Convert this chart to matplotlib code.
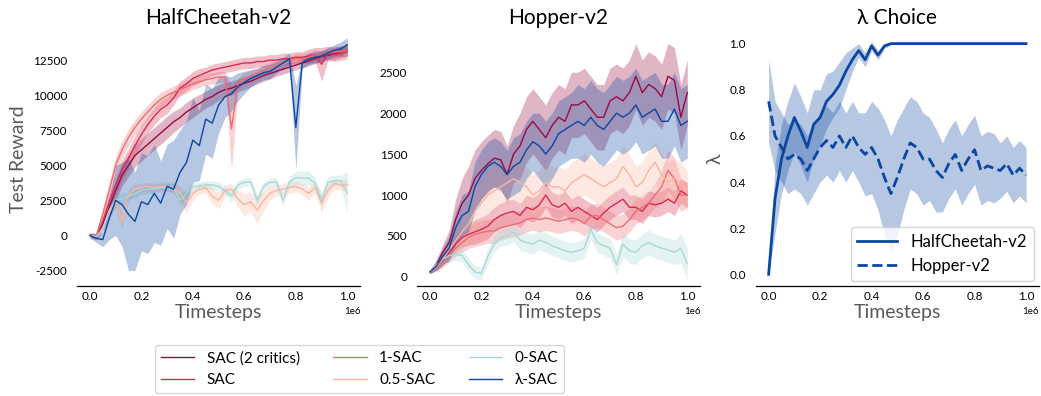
import numpy as np
import matplotlib
matplotlib.use("Agg")
from matplotlib import pyplot as plt

plt.rcParams['font.family'] = ['Lato', 'DejaVu Sans']
plt.rcParams['axes.unicode_minus'] = False

# timesteps grid (x 1e6)
steps = np.linspace(0, 1e6, 41)

# HalfCheetah-v2, mean test reward and half band width
hc_sac2 = [0, -100, 800, 2000, 3200, 4300, 5000, 5700, 6100, 6500, 6900, 7300, 7700, 8100, 8400, 8800, 9100, 9400, 9700, 9900,
           10200, 10400, 10500, 10700, 10850, 11000, 11200, 11400, 11550, 11700, 11850, 12000, 12150, 12300, 12450, 12600, 12750, 12850, 12950, 13100, 13200]
hc_sac2_err = [150, 200, 400, 600, 700, 800, 800, 800, 800, 800, 800, 800, 800, 750, 700, 700, 700, 650, 600, 600,
               550, 500, 500, 450, 450, 400, 400, 400, 400, 350, 350, 350, 350, 350, 350, 350, 350, 350, 400, 400, 400]
hc_sac = [0, -100, 1000, 2400, 3600, 4700, 5500, 6400, 7200, 7900, 8500, 9000, 9300, 9800, 10500, 10800, 11200, 11400, 11600, 11800,
          11900, 12000, 12100, 12200, 12300, 12300, 12400, 12400, 12500, 12500, 12600, 12600, 12700, 12700, 12800, 12900, 12200, 13000, 12900, 13000, 13100]
hc_sac_err = [150, 200, 400, 600, 700, 700, 700, 700, 700, 600, 600, 600, 600, 500, 500, 500, 500, 500, 400, 400,
              400, 400, 400, 400, 400, 400, 400, 400, 400, 400, 400, 400, 400, 400, 500, 500, 1200, 500, 500, 500, 500]
hc_1sac = [0, 0, 1500, 3200, 5000, 6100, 7000, 7700, 8300, 8800, 9300, 9700, 10000, 10200, 10400, 10600, 10800, 10950, 11100, 11200,
           11300, 11300, 7600, 10800, 11200, 11400, 11600, 11800, 12000, 12100, 12300, 12400, 12600, 12600, 12700, 12900, 12800, 13000, 13100, 13100, 13200]
hc_1sac_err = [150, 200, 500, 600, 600, 600, 600, 550, 500, 500, 500, 500, 450, 450, 450, 450, 400, 400, 400, 400,
               400, 400, 3000, 400, 400, 400, 350, 350, 350, 350, 350, 350, 350, 350, 350, 350, 350, 350, 400, 400, 400]
hc_05sac = [0, -100, 500, 1600, 2500, 1000, 2900, 3300, 3400, 3500, 3400, 3500, 3500, 3400, 3000, 2300, 3000, 3300, 3400, 2800,
            2500, 3200, 3300, 2600, 2200, 2400, 1800, 2500, 3000, 3200, 3300, 3400, 3500, 3300, 3000, 3400, 2300, 3200, 3700, 3600, 3600]
hc_05sac_err = [100, 200, 300, 400, 500, 500, 400, 400, 300, 300, 300, 300, 300, 400, 500, 700, 500, 400, 400, 600,
                600, 400, 400, 600, 800, 700, 1000, 700, 500, 400, 400, 400, 400, 400, 500, 400, 700, 500, 400, 400, 400]
hc_0sac = [0, -100, 500, 1800, 2500, 2600, 2800, 3000, 3200, 3300, 3300, 3400, 3400, 3400, 2500, 3000, 3500, 3500, 3600, 3600,
           3500, 3200, 2800, 3600, 3800, 3800, 2500, 3500, 3800, 3800, 2500, 3800, 4100, 4100, 4100, 3700, 2500, 3800, 3900, 3900, 3000]
hc_0sac_err = [100, 200, 300, 400, 400, 400, 300, 300, 300, 300, 300, 300, 300, 300, 400, 300, 300, 300, 300, 300,
               300, 300, 400, 300, 300, 300, 400, 300, 300, 300, 400, 400, 500, 500, 500, 400, 500, 400, 400, 400, 1500]
hc_lam = [0, -200, -300, 1200, 2500, 2200, 1500, 1000, 2400, 2200, 3000, 2300, 3500, 3300, 4500, 5200, 6800, 6400, 8300, 8000,
          9300, 9900, 10100, 10600, 10900, 11200, 11400, 11600, 11700, 12000, 12300, 12600, 7700, 12300, 12600, 12700, 12800, 13000, 13200, 13300, 13600]
hc_lam_err = [200, 300, 500, 1500, 2500, 3000, 4000, 3500, 3500, 3500, 3500, 3000, 3000, 3500, 3000, 3000, 3000, 2500, 2500, 2500,
              2000, 1500, 1200, 1000, 800, 600, 500, 500, 500, 400, 400, 400, 3000, 400, 400, 400, 400, 400, 400, 500, 500]

# Hopper-v2
hp_sac2 = [60, 150, 300, 420, 700, 900, 1000, 1200, 1300, 1380, 1450, 1430, 1250, 1500, 1600, 1800, 1900, 1800, 1700, 1850,
           1950, 1900, 2100, 2100, 2150, 2050, 1950, 1950, 2150, 2200, 2150, 2250, 2450, 2250, 2350, 2300, 2200, 2450, 2400, 1950, 2250]
hp_sac2_err = [20, 60, 100, 150, 250, 300, 350, 350, 350, 350, 350, 350, 350, 350, 400, 400, 400, 400, 400, 400,
               400, 400, 400, 400, 400, 400, 400, 400, 400, 400, 400, 400, 400, 400, 400, 400, 400, 400, 400, 400, 400]
hp_sac = [60, 120, 200, 300, 400, 480, 520, 550, 580, 620, 700, 750, 780, 800, 750, 850, 820, 880, 1000, 880,
          850, 900, 800, 850, 800, 750, 700, 780, 850, 900, 950, 850, 850, 800, 900, 880, 900, 950, 900, 1050, 1000]
hp_sac_err = [20, 40, 60, 80, 100, 120, 130, 150, 150, 150, 150, 150, 150, 150, 150, 150, 150, 150, 150, 150,
              150, 150, 150, 150, 150, 150, 150, 150, 150, 150, 150, 150, 150, 150, 150, 150, 150, 150, 150, 150, 150]
hp_1sac = [60, 110, 180, 260, 350, 420, 480, 520, 540, 560, 560, 600, 620, 640, 660, 700, 720, 700, 720, 700,
           680, 700, 720, 700, 650, 740, 750, 700, 650, 600, 620, 700, 800, 850, 900, 1000, 1100, 1300, 1200, 1000, 1000]
hp_1sac_err = [20, 40, 60, 80, 100, 120, 130, 150, 150, 150, 150, 150, 150, 150, 150, 150, 150, 150, 150, 150,
               150, 150, 150, 150, 150, 150, 150, 150, 150, 150, 150, 150, 150, 150, 150, 150, 200, 250, 250, 200, 150]
hp_05sac = [60, 120, 220, 330, 450, 550, 650, 800, 900, 1000, 1050, 1100, 1150, 1200, 1150, 1100, 1000, 1050, 1150, 1100,
            1100, 1050, 1150, 1200, 1250, 1200, 1150, 1100, 1150, 1200, 1350, 1250, 1100, 1150, 1300, 1400, 1250, 1150, 1200, 1150, 1050]
hp_05sac_err = [20, 40, 80, 120, 150, 200, 200, 250, 250, 250, 250, 250, 250, 250, 250, 250, 250, 250, 250, 250,
                250, 250, 250, 250, 250, 250, 250, 250, 250, 250, 250, 250, 250, 250, 250, 250, 250, 250, 250, 250, 250]
hp_0sac = [60, 150, 220, 260, 280, 260, 150, 60, 40, 250, 400, 480, 500, 550, 450, 420, 400, 450, 420, 380,
           350, 320, 300, 320, 350, 580, 420, 380, 350, 150, 400, 320, 300, 380, 420, 380, 350, 330, 300, 350, 160]
hp_0sac_err = [20, 50, 60, 70, 80, 80, 80, 80, 80, 100, 100, 100, 120, 120, 120, 120, 120, 120, 120, 120,
               120, 120, 120, 120, 120, 120, 120, 120, 120, 120, 150, 150, 150, 150, 150, 150, 150, 150, 150, 180, 200]
hp_lam = [60, 130, 250, 350, 600, 750, 800, 1100, 1250, 1350, 1400, 1350, 1250, 1350, 1400, 1550, 1650, 1600, 1500, 1600,
          1750, 1800, 1850, 1900, 1850, 1950, 1850, 1800, 1900, 2000, 1950, 2000, 2100, 1950, 2000, 2050, 1900, 1900, 2050, 1850, 1900]
hp_lam_err = [20, 50, 100, 150, 200, 250, 250, 300, 300, 300, 300, 300, 300, 350, 350, 350, 350, 400, 400, 400,
              400, 400, 400, 450, 450, 450, 450, 450, 450, 450, 450, 450, 450, 450, 450, 450, 450, 450, 450, 450, 450]

# lambda choice
lam_hc = [0.0, 0.33, 0.5, 0.6, 0.68, 0.62, 0.55, 0.65, 0.68, 0.75, 0.78, 0.82, 0.88, 0.93, 0.97, 0.93, 0.99, 0.95, 0.99, 1.0,
          1.0, 1.0, 1.0, 1.0, 1.0, 1.0, 1.0, 1.0, 1.0, 1.0, 1.0, 1.0, 1.0, 1.0, 1.0, 1.0, 1.0, 1.0, 1.0, 1.0, 1.0]
lam_hc_err = [0.0, 0.15, 0.15, 0.15, 0.15, 0.15, 0.15, 0.15, 0.12, 0.12, 0.1, 0.1, 0.08, 0.05, 0.03, 0.03, 0.02, 0.02, 0.01, 0.005,
              0, 0, 0, 0, 0, 0, 0, 0, 0, 0, 0, 0, 0, 0, 0, 0, 0, 0, 0, 0, 0]
lam_hop = [0.75, 0.6, 0.55, 0.5, 0.52, 0.5, 0.45, 0.5, 0.55, 0.58, 0.55, 0.6, 0.55, 0.6, 0.55, 0.52, 0.55, 0.5, 0.42, 0.35,
           0.42, 0.5, 0.57, 0.55, 0.5, 0.5, 0.45, 0.42, 0.48, 0.52, 0.45, 0.5, 0.54, 0.45, 0.47, 0.46, 0.45, 0.48, 0.43, 0.46, 0.43]
lam_hop_err = [0.18, 0.15, 0.15, 0.15, 0.15, 0.15, 0.15, 0.15, 0.15, 0.15, 0.15, 0.15, 0.15, 0.15, 0.15, 0.18, 0.2, 0.22, 0.25, 0.25,
               0.25, 0.22, 0.2, 0.2, 0.2, 0.18, 0.18, 0.15, 0.15, 0.15, 0.15, 0.15, 0.15, 0.15, 0.15, 0.15, 0.12, 0.12, 0.12, 0.12, 0.12]

labels = ["SAC (2 critics)", "SAC", "1-SAC", "0.5-SAC", "0-SAC", "λ-SAC"]
colors = ["#9b0a3f", "#d62b4f", "#ee6b73", "#fbb4a0", "#a8d8d6", "#0b47a1"]

hc_runs = [(hc_sac2, hc_sac2_err), (hc_sac, hc_sac_err), (hc_1sac, hc_1sac_err),
           (hc_05sac, hc_05sac_err), (hc_0sac, hc_0sac_err), (hc_lam, hc_lam_err)]
hp_runs = [(hp_sac2, hp_sac2_err), (hp_sac, hp_sac_err), (hp_1sac, hp_1sac_err),
           (hp_05sac, hp_05sac_err), (hp_0sac, hp_0sac_err), (hp_lam, hp_lam_err)]

fig = plt.figure(figsize=(10.41, 3.96), dpi=100)
ax1 = fig.add_axes([0.074, 0.278, 0.272, 0.641])
ax2 = fig.add_axes([0.4006, 0.278, 0.272, 0.641])
ax3 = fig.add_axes([0.726, 0.278, 0.272, 0.641])

grey = "#5a5a5a"

def style(ax, title):
    for s in ["top", "right", "left"]:
        ax.spines[s].set_visible(False)
    ax.spines["bottom"].set_linewidth(0.9)
    ax.tick_params(length=0, labelsize=8.5)
    ax.tick_params(axis="y", pad=7)
    ax.tick_params(axis="x", pad=4)
    ax.set_title(title, fontsize=15, pad=6)
    ax.set_xlabel("Timesteps", fontsize=14, color=grey, labelpad=1)
    ax.set_xticks([0, 2e5, 4e5, 6e5, 8e5, 1e6])
    ax.set_xlim(-0.05e6, 1.05e6)
    ax.xaxis.get_offset_text().set_fontsize(7)

handles = []
for ax, runs in [(ax1, hc_runs), (ax2, hp_runs)]:
    handles = []
    for (m, e), c, lab in zip(runs, colors, labels):
        m = np.array(m, dtype=float)
        e = np.array(e, dtype=float)
        ax.fill_between(steps, m - e, m + e, color=c, alpha=0.3, lw=0)
        h, = ax.plot(steps, m, color=c, lw=1.0, label=lab)
        handles.append(h)

style(ax1, "HalfCheetah-v2")
ax1.set_ylabel("Test Reward", fontsize=14, color=grey, labelpad=4)
ax1.set_yticks([-2500, 0, 2500, 5000, 7500, 10000, 12500])
ax1.set_ylim(-3600, 14500)

style(ax2, "Hopper-v2")
ax2.set_yticks([0, 500, 1000, 1500, 2000, 2500])
ax2.set_ylim(-110, 2990)

m = np.array(lam_hc); e = np.array(lam_hc_err)
ax3.fill_between(steps, m - e, m + e, color=colors[5], alpha=0.3, lw=0)
ax3.plot(steps, m, color=colors[5], lw=2, label="HalfCheetah-v2")
m = np.array(lam_hop); e = np.array(lam_hop_err)
ax3.fill_between(steps, m - e, m + e, color=colors[5], alpha=0.3, lw=0)
ax3.plot(steps, m, color=colors[5], lw=2, ls="--", label="Hopper-v2")
style(ax3, "λ Choice")
ax3.set_ylabel("λ", fontsize=14, color=grey, labelpad=4)
ax3.set_yticks([0.0, 0.2, 0.4, 0.6, 0.8, 1.0])
ax3.set_ylim(-0.05, 1.05)
ax3.legend(loc="lower right", fontsize=12, handlelength=2.4, borderaxespad=0.3)

fig.legend(handles=handles, labels=labels, ncol=3, loc="upper center",
           bbox_to_anchor=(359.5 / 1041, 1 - 345 / 396), borderaxespad=0, fontsize=11,
           handlelength=2.2, columnspacing=2.2, frameon=True)

fig.savefig("out.png", dpi=100)
